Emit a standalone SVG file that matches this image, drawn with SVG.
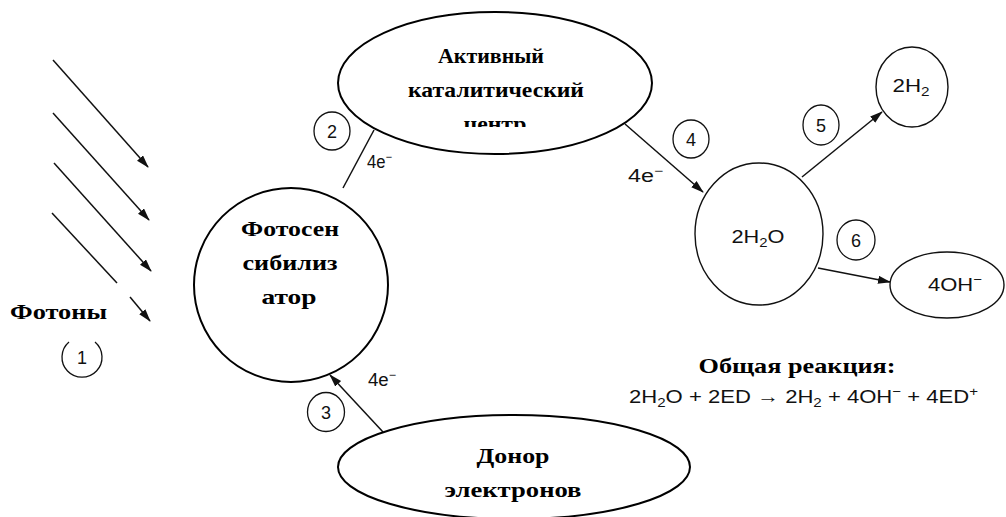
<svg xmlns="http://www.w3.org/2000/svg" width="1006" height="517" viewBox="0 0 1006 517">
<style>
.node{fill:#fff;stroke:#000;stroke-width:2}
.thin{fill:#fff;stroke:#111;stroke-width:1.4}
.ru{font-family:"Liberation Serif","Times New Roman",serif;font-weight:bold;font-size:22px;fill:#000}
.ch{font-family:"Liberation Sans",Arial,sans-serif;font-size:19px;fill:#111}
.lb{font-family:"Liberation Sans",Arial,sans-serif;font-size:18px;fill:#111}
.num{font-family:"Liberation Sans",Arial,sans-serif;font-size:18px;fill:#111;text-anchor:middle}
.ln{stroke:#111;stroke-width:1.5;fill:none}
.cl{fill:none;stroke:#111;stroke-width:1.3}
</style>
<defs>
<marker id="ah" markerUnits="userSpaceOnUse" markerWidth="13" markerHeight="10" refX="12" refY="4" orient="auto">
<path d="M0,0 L13,4 L0,8 Z" fill="#111"/>
</marker>
<clipPath id="clipTop"><rect x="0" y="0" width="1006" height="127"/></clipPath>
</defs>

<g id="connectors">
<line class="ln" x1="53" y1="60" x2="148" y2="167" marker-end="url(#ah)"/>
<line class="ln" x1="53" y1="113" x2="149" y2="220" marker-end="url(#ah)"/>
<line class="ln" x1="54" y1="163" x2="151" y2="271" marker-end="url(#ah)"/>
<line class="ln" x1="52" y1="213" x2="117" y2="283"/>
<line class="ln" x1="130" y1="297" x2="150" y2="321" marker-end="url(#ah)"/>
<line class="ln" x1="343" y1="188" x2="374" y2="130"/>
<line class="ln" x1="383" y1="432" x2="330" y2="375" marker-end="url(#ah)"/>
<line class="ln" x1="625" y1="124" x2="703" y2="192" marker-end="url(#ah)"/>
<line class="ln" x1="802" y1="177" x2="882" y2="112" marker-end="url(#ah)"/>
<line class="ln" x1="818" y1="268" x2="890" y2="282" marker-end="url(#ah)"/>
</g>

<g id="photons">
<text class="ru" x="10" y="319" textLength="97" lengthAdjust="spacingAndGlyphs">Фотоны</text>
<path class="cl" d="M69,342 A20,20 0 1 0 95,342"/>
<text class="num" x="82" y="364">1</text>
</g>

<g id="catalytic-center">
<ellipse class="node" cx="495" cy="83" rx="157" ry="71"/>
<text class="ru" text-anchor="middle" x="491" y="63" textLength="106" lengthAdjust="spacingAndGlyphs">Активный</text>
<text class="ru" text-anchor="middle" x="496" y="97" textLength="176" lengthAdjust="spacingAndGlyphs">каталитический</text>
<text class="ru" text-anchor="middle" x="495" y="131" textLength="63" lengthAdjust="spacingAndGlyphs" clip-path="url(#clipTop)">центр</text>
</g>

<g id="photosensitizer">
<ellipse class="node" cx="291" cy="285" rx="97" ry="97"/>
<text class="ru" text-anchor="middle" x="290" y="236" textLength="98" lengthAdjust="spacingAndGlyphs">Фотосен</text>
<text class="ru" text-anchor="middle" x="290" y="270" textLength="95" lengthAdjust="spacingAndGlyphs">сибилиз</text>
<text class="ru" text-anchor="middle" x="289" y="304" textLength="55" lengthAdjust="spacingAndGlyphs">атор</text>
</g>

<g id="donor">
<ellipse class="node" cx="514" cy="467" rx="176" ry="52"/>
<text class="ru" text-anchor="middle" x="513" y="463" textLength="73" lengthAdjust="spacingAndGlyphs">Донор</text>
<text class="ru" text-anchor="middle" x="513" y="497" textLength="137" lengthAdjust="spacingAndGlyphs">электронов</text>
</g>

<g id="water">
<ellipse class="thin" cx="759" cy="234" rx="64" ry="71"/>
<text class="ch" text-anchor="middle" x="758" y="243" textLength="53" lengthAdjust="spacingAndGlyphs">2H<tspan font-size="13" dy="4">2</tspan><tspan dy="-4">O</tspan></text>
</g>

<g id="hydrogen">
<ellipse class="thin" cx="912" cy="87" rx="36" ry="40"/>
<text class="ch" text-anchor="middle" x="911" y="92" textLength="37" lengthAdjust="spacingAndGlyphs">2H<tspan font-size="13" dy="4">2</tspan></text>
</g>

<g id="hydroxide">
<ellipse class="thin" cx="947" cy="285" rx="57" ry="33"/>
<text class="ch" text-anchor="middle" x="955" y="291" textLength="54" lengthAdjust="spacingAndGlyphs">4OH<tspan font-size="13" dy="-7">−</tspan></text>
</g>

<g id="labels">
<ellipse class="cl" cx="332" cy="131" rx="18" ry="19"/>
<text class="num" x="332" y="138">2</text>
<text class="lb" x="367" y="168" textLength="25" lengthAdjust="spacingAndGlyphs">4e<tspan font-size="12" dy="-7">−</tspan></text>
<ellipse class="cl" cx="326" cy="412" rx="18.5" ry="19.5"/>
<text class="num" x="326" y="419">3</text>
<text class="lb" x="368" y="386" textLength="28" lengthAdjust="spacingAndGlyphs">4e<tspan font-size="12" dy="-7">−</tspan></text>
<ellipse class="cl" cx="691" cy="139" rx="18" ry="19"/>
<text class="num" x="691" y="146">4</text>
<text class="lb" x="628" y="182" textLength="35" lengthAdjust="spacingAndGlyphs">4e<tspan font-size="12" dy="-7">−</tspan></text>
<ellipse class="cl" cx="821" cy="125" rx="18" ry="20"/>
<text class="num" x="821" y="132">5</text>
<ellipse class="cl" cx="856" cy="240" rx="19" ry="20"/>
<text class="num" x="856" y="247">6</text>
</g>

<g id="overall-reaction">
<text class="ru" text-anchor="middle" x="797" y="373" textLength="197" lengthAdjust="spacingAndGlyphs">Общая реакция:</text>
<text class="ch" x="629" y="403" textLength="349" lengthAdjust="spacingAndGlyphs">2H<tspan font-size="13" dy="4">2</tspan><tspan dy="-4">O + 2ED → 2H</tspan><tspan font-size="13" dy="4">2</tspan><tspan dy="-4"> + 4OH</tspan><tspan font-size="13" dy="-7">−</tspan><tspan dy="7"> + 4ED</tspan><tspan font-size="13" dy="-7">+</tspan></text>
</g>
</svg>
